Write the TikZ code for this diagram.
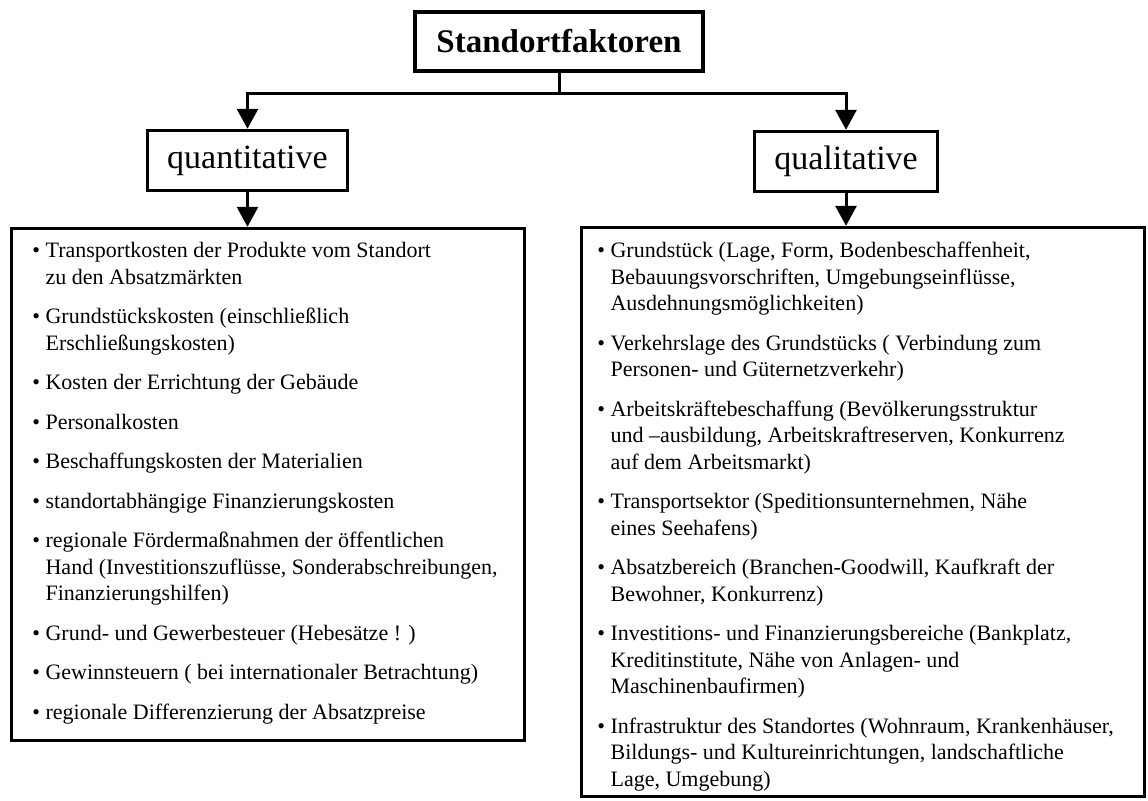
\documentclass[tikz,border=0pt]{standalone}
\usepackage{fontspec}
\setmainfont{Liberation Serif}
\usetikzlibrary{arrows.meta}
\newcommand\bitem[1]{\makebox[6.6pt][l]{\textbullet}\parbox[t]{300pt}{\raggedright #1}}
\begin{document}
\begin{tikzpicture}[x=0.5pt,y=-0.5pt,
  box/.style={draw, rectangle, line width=1.7pt, inner sep=0pt},
  conn/.style={line width=1.5pt, -{Triangle[width=10.5pt,length=10pt]}},
  itemnode/.style={anchor=base west, inner sep=0pt, font=\fontsize{11}{13.25}\selectfont}]
\useasboundingbox (0,0) rectangle (1148,801);
% boxes
\node[box, line width=2pt, minimum width=144pt, minimum height=29.5pt,
      font=\fontsize{16.5}{20}\selectfont\bfseries] (title) at (559,41.5) {Standortfaktoren};
\node[box, minimum width=100pt, minimum height=30pt,
      font=\fontsize{17}{20}\selectfont] (quant) at (247.5,160.5) {quantitative};
\node[box, minimum width=91.5pt, minimum height=30pt,
      font=\fontsize{17}{20}\selectfont] (qual) at (846,161.5) {qualitative};
\node[box, minimum width=256.5pt, minimum height=256pt] (lbox) at (268,484.5) {};
\node[box, minimum width=281.5pt, minimum height=284.5pt] (rbox) at (863,512) {};
% connectors
\coordinate (hy) at (0,94);
\draw[conn] (title.south) -- (title.south |- hy) -| (quant.north);
\draw[conn] (title.south) -- (title.south |- hy) -| (qual.north);
\draw[conn] (quant.south) -- (quant.south |- lbox.north);
\draw[conn] (qual.south) -- (qual.south |- rbox.north);
% left list
\node[itemnode] (l1) at (32,258) {\bitem{Transportkosten der Produkte vom Standort\\ zu den Absatzmärkten}};
\node[itemnode] (l2) at (32,324) {\bitem{Grundstückskosten (einschließlich\\Erschließungskosten)}};
\node[itemnode] (l3) at (32,390) {\bitem{Kosten der Errichtung der Gebäude}};
\node[itemnode] (l4) at (32,429.5) {\bitem{Personalkosten}};
\node[itemnode] (l5) at (32,469) {\bitem{Beschaffungskosten der Materialien}};
\node[itemnode] (l6) at (32,508.5) {\bitem{standortabhängige Finanzierungskosten}};
\node[itemnode] (l7) at (32,548) {\bitem{regionale Fördermaßnahmen der öffentlichen\\ Hand (Investitionszuflüsse, Sonderabschreibungen,\\ Finanzierungshilfen)}};
\node[itemnode] (l8) at (32,640.5) {\bitem{Grund- und Gewerbesteuer (Hebesätze ! )}};
\node[itemnode] (l9) at (32,680) {\bitem{Gewinnsteuern ( bei internationaler Betrachtung)}};
\node[itemnode] (l10) at (32,719.5) {\bitem{regionale Differenzierung der Absatzpreise}};
% right list
\node[itemnode] (r1) at (597,258) {\bitem{Grundstück (Lage, Form, Bodenbeschaffenheit,\\ Bebauungsvorschriften, Umgebungseinflüsse,\\ Ausdehnungsmöglichkeiten)}};
\node[itemnode] (r2) at (597,350.5) {\bitem{Verkehrslage des Grundstücks ( Verbindung zum\\ Personen- und Güternetzverkehr)}};
\node[itemnode] (r3) at (597,416.5) {\bitem{Arbeitskräftebeschaffung (Bevölkerungsstruktur\\ und –ausbildung, Arbeitskraftreserven, Konkurrenz\\ auf dem Arbeitsmarkt)}};
\node[itemnode] (r4) at (597,509) {\bitem{Transportsektor (Speditionsunternehmen, Nähe\\ eines Seehafens)}};
\node[itemnode] (r5) at (597,575) {\bitem{Absatzbereich (Branchen-Goodwill, Kaufkraft der\\ Bewohner, Konkurrenz)}};
\node[itemnode] (r6) at (597,641) {\bitem{Investitions- und Finanzierungsbereiche (Bankplatz,\\Kreditinstitute, Nähe von Anlagen- und\\ Maschinenbaufirmen)}};
\node[itemnode] (r7) at (597,733.5) {\bitem{Infrastruktur des Standortes (Wohnraum, Krankenhäuser,\\ Bildungs- und Kultureinrichtungen, landschaftliche\\ Lage, Umgebung)}};
\end{tikzpicture}
\end{document}
